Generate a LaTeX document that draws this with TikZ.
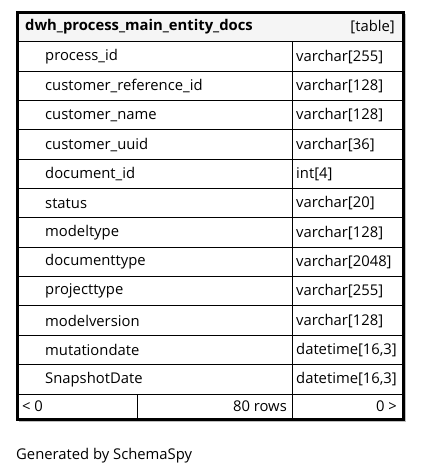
\documentclass[tikz,border=0pt]{standalone}
\usepackage{fontspec}
\setmainfont{Open Sans}
\begin{document}
\begin{tikzpicture}[x=1pt,y=-1pt,
  cell/.style={draw=black,line width=1pt},
  nm/.style={anchor=west,inner sep=0pt,font=\fontsize{14.8}{17}\selectfont},
  ty/.style={anchor=west,inner sep=0pt,font=\fontsize{14.8}{17}\selectfont},
  rt/.style={anchor=east,inner sep=0pt,font=\fontsize{14.8}{17}\selectfont},
  hd/.style={anchor=west,inner sep=0pt,font=\fontsize{14.8}{17}\selectfont\bfseries}]
\useasboundingbox (0,0) rectangle (421,476);
\fill[white] (0,0) rectangle (421,476);
% shadow
\fill[black!25] (19,14) rectangle (406,422);
\fill[white] (17.5,12.5) rectangle (403.5,419.5);
% header
\fill[black!4] (17.5,12.5) rectangle (403.5,42);
\node[hd] (title) at (25,27) {dwh\_process\_main\_entity\_docs};
\node[rt] (tag) at (395,27) {[table]};
\draw[cell] (17.5,42) -- (403.5,42);
% rows
\def\rh{29.333}
\foreach \n/\t [count=\i from 0] in {process\_id/varchar[255],customer\_reference\_id/varchar[128],customer\_name/varchar[128],customer\_uuid/varchar[36],document\_id/int[4],status/varchar[20],modeltype/varchar[128],documenttype/varchar[2048],projecttype/varchar[255],modelversion/varchar[128],mutationdate/{datetime[16,3]},SnapshotDate/{datetime[16,3]}}{
  \pgfmathsetmacro{\ytop}{42+\i*\rh}
  \pgfmathsetmacro{\ymid}{42+(\i+0.5)*\rh}
  \pgfmathsetmacro{\ybot}{42+(\i+1)*\rh}
  \draw[cell] (17.5,\ybot) -- (403.5,\ybot);
  \draw[cell] (292,\ytop) -- (292,\ybot);
  \node[nm] (n\i) at (45,\ymid) {\n};
  \node[ty] (t\i) at (296,\ymid) {\t};
}
% footer
\draw[cell] (137,394) -- (137,419.5);
\draw[cell] (292,394) -- (292,419.5);
\node[nm] (prev) at (22,406) {< 0};
\node[rt] (rows) at (287,406) {80 rows};
\node[rt] (next) at (397,406) {0 >};
% outer border
\draw[line width=3pt] (17.5,12.5) rectangle (403.5,419.5);
\node[nm] (gen) at (16,456) {Generated by SchemaSpy};
\end{tikzpicture}
\end{document}
